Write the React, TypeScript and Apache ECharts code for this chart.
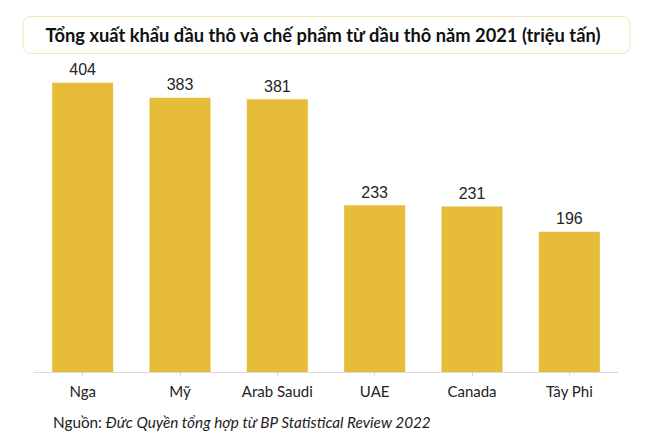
import React, { useEffect, useRef } from "react";
import * as echarts from "echarts";

const categories = ["Nga", "Mỹ", "Arab Saudi", "UAE", "Canada", "Tây Phi"];
const values = [404, 383, 381, 233, 231, 196];
const titleText = "Tổng xuất khẩu dầu thô và chế phẩm từ dầu thô năm 2021 (triệu tấn)";
const sourceLabel = "Nguồn: ";
const sourceText = "Đức Quyền tổng hợp từ BP Statistical Review 2022";

export default function App() {
  const ref = useRef<HTMLDivElement>(null);
  useEffect(() => {
    if (!ref.current) return;
    const chart = echarts.init(ref.current, null, { renderer: "svg" });
    chart.setOption({
      animation: false,
      backgroundColor: "#ffffff",
      grid: { left: 34, right: 44, top: 14, bottom: 75 },
      xAxis: {
        type: "category",
        data: categories,
        axisLine: { show: true, lineStyle: { color: "#D9D9D9", width: 1 } },
        axisTick: { show: true, alignWithLabel: true, length: 4, lineStyle: { color: "#D9D9D9" } },
        axisLabel: {
          margin: 11,
          fontSize: 15,
          fontFamily: "Lato",
          color: "#222222",
        },
      },
      yAxis: {
        type: "value",
        min: 0,
        max: 500,
        show: false,
        splitLine: { show: false },
      },
      series: [
        {
          type: "bar",
          data: values,
          barWidth: 61,
          itemStyle: { color: "#E6BC38" },
          label: {
            show: true,
            position: "top",
            distance: 5,
            fontSize: 16,
            fontFamily: "Liberation Sans, Arial",
            color: "#262626",
          },
        },
      ],
      graphic: [
        {
          type: "rect",
          shape: { x: 23, y: 16.5, width: 607, height: 37, r: 8 },
          style: { fill: "#ffffff", stroke: "#F5E4B0", lineWidth: 1 },
          z: 10,
        },
        {
          type: "text",
          x: 323,
          y: 35,
          z: 11,
          style: {
            text: titleText,
            fontSize: 18.3,
            fontWeight: "bold",
            fontFamily: "Lato",
            fill: "#111111",
            align: "center",
            verticalAlign: "middle",
          },
        },
        {
          type: "text",
          x: 53,
          y: 422,
          z: 11,
          style: {
            text: "{n|" + sourceLabel + "}{i|" + sourceText + "}",
            verticalAlign: "middle",
            rich: {
              n: { fontSize: 15.3, fontFamily: "Lato", fill: "#222222", fontStyle: "normal" },
              i: { fontSize: 15.3, fontFamily: "Lato", fill: "#222222", fontStyle: "italic" },
            },
          },
        },
      ],
    });
    return () => chart.dispose();
  }, []);
  return (
    <div
      ref={ref}
      style={{ position: "fixed", left: 0, top: 0, width: 662, height: 447, background: "#fff" }}
    />
  );
}
